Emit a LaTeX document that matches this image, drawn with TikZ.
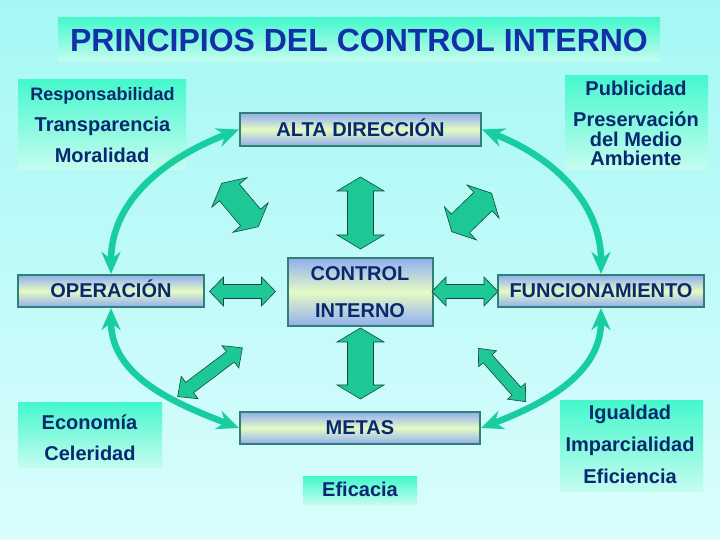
\documentclass[tikz,border=0pt]{standalone}
\usepackage{fontspec}
\setmainfont{Liberation Sans}
\usetikzlibrary{arrows.meta}
\definecolor{bgtop}{RGB}{164,248,244}
\definecolor{bgbot}{RGB}{218,253,253}
\definecolor{pgtop}{RGB}{70,248,204}
\definecolor{pgbot}{RGB}{198,252,240}
\definecolor{cnavy}{RGB}{8,40,112}
\definecolor{tblue}{RGB}{20,48,168}
\definecolor{bxblue}{RGB}{146,174,240}
\definecolor{bxmid}{RGB}{228,250,196}
\definecolor{bxbord}{RGB}{48,128,116}
\definecolor{arcg}{RGB}{24,206,160}
\definecolor{bafill}{RGB}{30,200,150}
\definecolor{badraw}{RGB}{24,70,60}
\tikzset{
  pbox/.style={inner sep=0pt, outer sep=0pt, top color=pgtop, bottom color=pgbot, draw=none},
  bbox/.style={draw=bxbord, line width=2pt, top color=bxblue, bottom color=bxblue, middle color=bxmid, inner sep=0pt},
  txt/.style={text=cnavy, font=\bfseries\fontsize{20}{24}\selectfont, inner sep=0pt, text height=14pt, text depth=0pt},
  ttl/.style={text=tblue, font=\bfseries\fontsize{32}{38}\selectfont, text height=23pt, text depth=0pt},
  bigarc/.style={color=arcg, line width=6.5pt, {Stealth[length=22pt,width=19pt,inset=7pt]}-{Stealth[length=22pt,width=19pt,inset=7pt]}},
  barrow/.style={fill=bafill, draw=badraw, line width=0.6pt, line join=miter}
}
% centre x, centre y, angle, half length, half shaft, half head, head length
\newcommand\blkarrow[7]{%
  \begin{scope}[shift={(#1,#2)},rotate=#3]
    \draw[barrow] (-#4,0) -- ({-#4+#7},#6) -- ({-#4+#7},#5) -- ({#4-#7},#5) -- ({#4-#7},#6) -- (#4,0)
      -- ({#4-#7},-#6) -- ({#4-#7},-#5) -- ({-#4+#7},-#5) -- ({-#4+#7},-#6) -- cycle;
  \end{scope}}
\begin{document}
\begin{tikzpicture}[x=1pt,y=1pt]
\useasboundingbox (0,0) rectangle (720,540);
\fill[top color=bgtop,bottom color=bgbot] (0,0) rectangle (720,540);

% title
\node[pbox, ttl, minimum width=602pt, minimum height=44pt] (title) at (359,500) {PRINCIPIOS DEL CONTROL INTERNO};

% principle boxes
\node[pbox, minimum width=168pt, minimum height=90pt] (pb1) at (102,415) {};
\node[txt, font=\bfseries\fontsize{18}{22}\selectfont] (t11) at (102.5,446) {Responsabilidad};
\node[txt] (t12) at (102.5,415) {Transparencia};
\node[txt] (t13) at (102,384) {Moralidad};

\node[pbox, minimum width=143pt, minimum height=94pt] (pb2) at (636.5,417) {};
\node[txt] (t21) at (636,451) {Publicidad};
\node[txt] (t22) at (636,420) {Preservación};
\node[txt] (t23) at (636,400) {del Medio};
\node[txt] (t24) at (636,381) {Ambiente};

\node[pbox, minimum width=144pt, minimum height=65pt] (pb3) at (90,104.5) {};
\node[txt] (t31) at (89.5,117) {Economía};
\node[txt] (t32) at (90,86) {Celeridad};

\node[pbox, minimum width=114pt, minimum height=28pt] (pb4) at (360,49) {};
\node[txt] (t41) at (360,50) {Eficacia};

\node[pbox, minimum width=143pt, minimum height=91pt] (pb5) at (631.5,93.5) {};
\node[txt] (t51) at (630,127) {Igualdad};
\node[txt] (t52) at (630,95) {Imparcialidad};
\node[txt] (t53) at (630,63) {Eficiencia};

% main boxes
\node[bbox, txt, minimum width=241pt, minimum height=33pt] (alta) at (360.5,410.5) {ALTA DIRECCIÓN};
\node[bbox, minimum width=145pt, minimum height=68pt] (ci) at (360.5,248) {};
\node[txt] (ci1) at (360,266) {CONTROL};
\node[txt] (ci2) at (360,229) {INTERNO};
\node[bbox, txt, minimum width=186pt, minimum height=32pt] (op) at (111,249) {OPERACIÓN};
\node[bbox, txt, minimum width=206pt, minimum height=32pt] (func) at (601,249) {FUNCIONAMIENTO};
\node[bbox, txt, minimum width=240pt, minimum height=32pt] (metas) at (360,112) {METAS};

% big curved arrows
\draw[bigarc] (op.north) to[out=90,in=201] (alta.west);
\draw[bigarc] (alta.east) to[out=-21,in=90] (func.north);
\draw[bigarc] (op.south) to[out=-90,in=159] (metas.west);
\draw[bigarc] (metas.east) to[out=21,in=-90] (func.south);

% block arrows
\blkarrow{360.5}{327}{90}{36}{13}{23.5}{14}
\blkarrow{360.5}{176.5}{90}{35.5}{13}{23.5}{14}
\blkarrow{242.5}{248.5}{0}{33}{7}{14.5}{14}
\blkarrow{465}{248.5}{0}{33}{7}{14.5}{14}
\blkarrow{240}{335}{-50}{28.4}{13}{23}{12}
\blkarrow{471.7}{327.5}{44}{27.7}{13}{23}{12}
\blkarrow{210}{167.8}{37}{40.5}{6.5}{14}{15}
\blkarrow{502}{165}{-48.4}{35.7}{6}{12}{14}
\end{tikzpicture}
\end{document}
